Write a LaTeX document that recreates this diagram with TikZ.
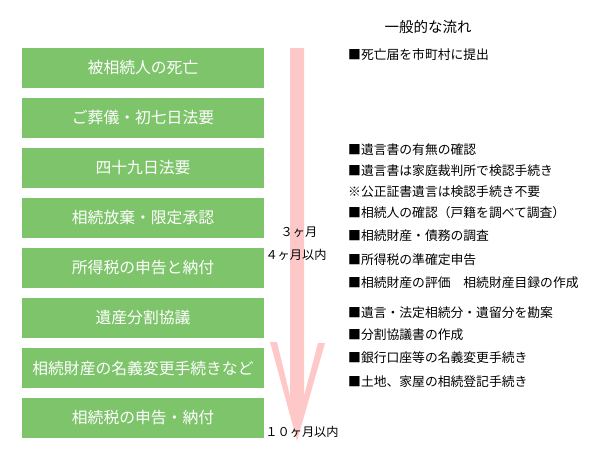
\documentclass[tikz,border=0pt]{standalone}
\usepackage{fontspec}
\setmainfont{Noto Sans CJK JP}
\definecolor{boxgreen}{HTML}{7EC46B}
\definecolor{arrowpink}{HTML}{FFC8C8}
\begin{document}
\begin{tikzpicture}[x=1pt,y=-1pt,
  stage/.style={fill=boxgreen,minimum width=242pt,minimum height=40pt,inner sep=0pt,text=white,font=\fontsize{15.8}{17}\selectfont},
  item/.style={anchor=west,inner sep=0pt,font=\fontsize{12.8}{14}\selectfont},
  period/.style={inner sep=0pt,font=\fontsize{12.2}{14}\selectfont}]
\useasboundingbox (0,0) rectangle (600,472);
\fill[arrowpink] (290,48) -- (304,48) -- (304,396) -- (318,343) -- (325,343) -- (297,441) -- (270,342) -- (277,342) -- (290,396) -- cycle;
\foreach \t [count=\i] in {被相続人の死亡,ご葬儀・初七日法要,四十九日法要,相続放棄・限定承認,所得税の申告と納付,遺産分割協議,相続財産の名義変更手続きなど,相続税の申告・納付}
  \node[stage] (s\i) at (143,{18+50*\i}) {\t};
\node[inner sep=0pt,font=\fontsize{14.5}{16}\selectfont] (title) at (428,27) {一般的な流れ};
\node[item] (r1) at (348,55) {■死亡届を市町村に提出};
\node[item] (r2) at (348,150) {■遺言書の有無の確認};
\node[item] (r3) at (348,171) {■遺言書は家庭裁判所で検認手続き};
\node[item] (r4) at (348,192) {※公正証書遺言は検認手続き不要};
\node[item] (r5) at (348,213) {■相続人の確認（戸籍を調べて調査）};
\node[item] (r6) at (348,236) {■相続財産・債務の調査};
\node[item] (r7) at (348,260) {■所得税の準確定申告};
\node[item] (r8) at (348,283) {■相続財産の評価　相続財産目録の作成};
\node[item] (r9) at (348,313) {■遺言・法定相続分・遺留分を勘案};
\node[item] (r10) at (348,335) {■分割協議書の作成};
\node[item] (r11) at (348,358) {■銀行口座等の名義変更手続き};
\node[item] (r12) at (348,382) {■土地、家屋の相続登記手続き};
\node[period] (p1) at (299,232) {３ヶ月};
\node[period] (p2) at (296,255) {４ヶ月以内};
\node[period] (p3) at (302,432) {１０ヶ月以内};
\end{tikzpicture}
\end{document}
